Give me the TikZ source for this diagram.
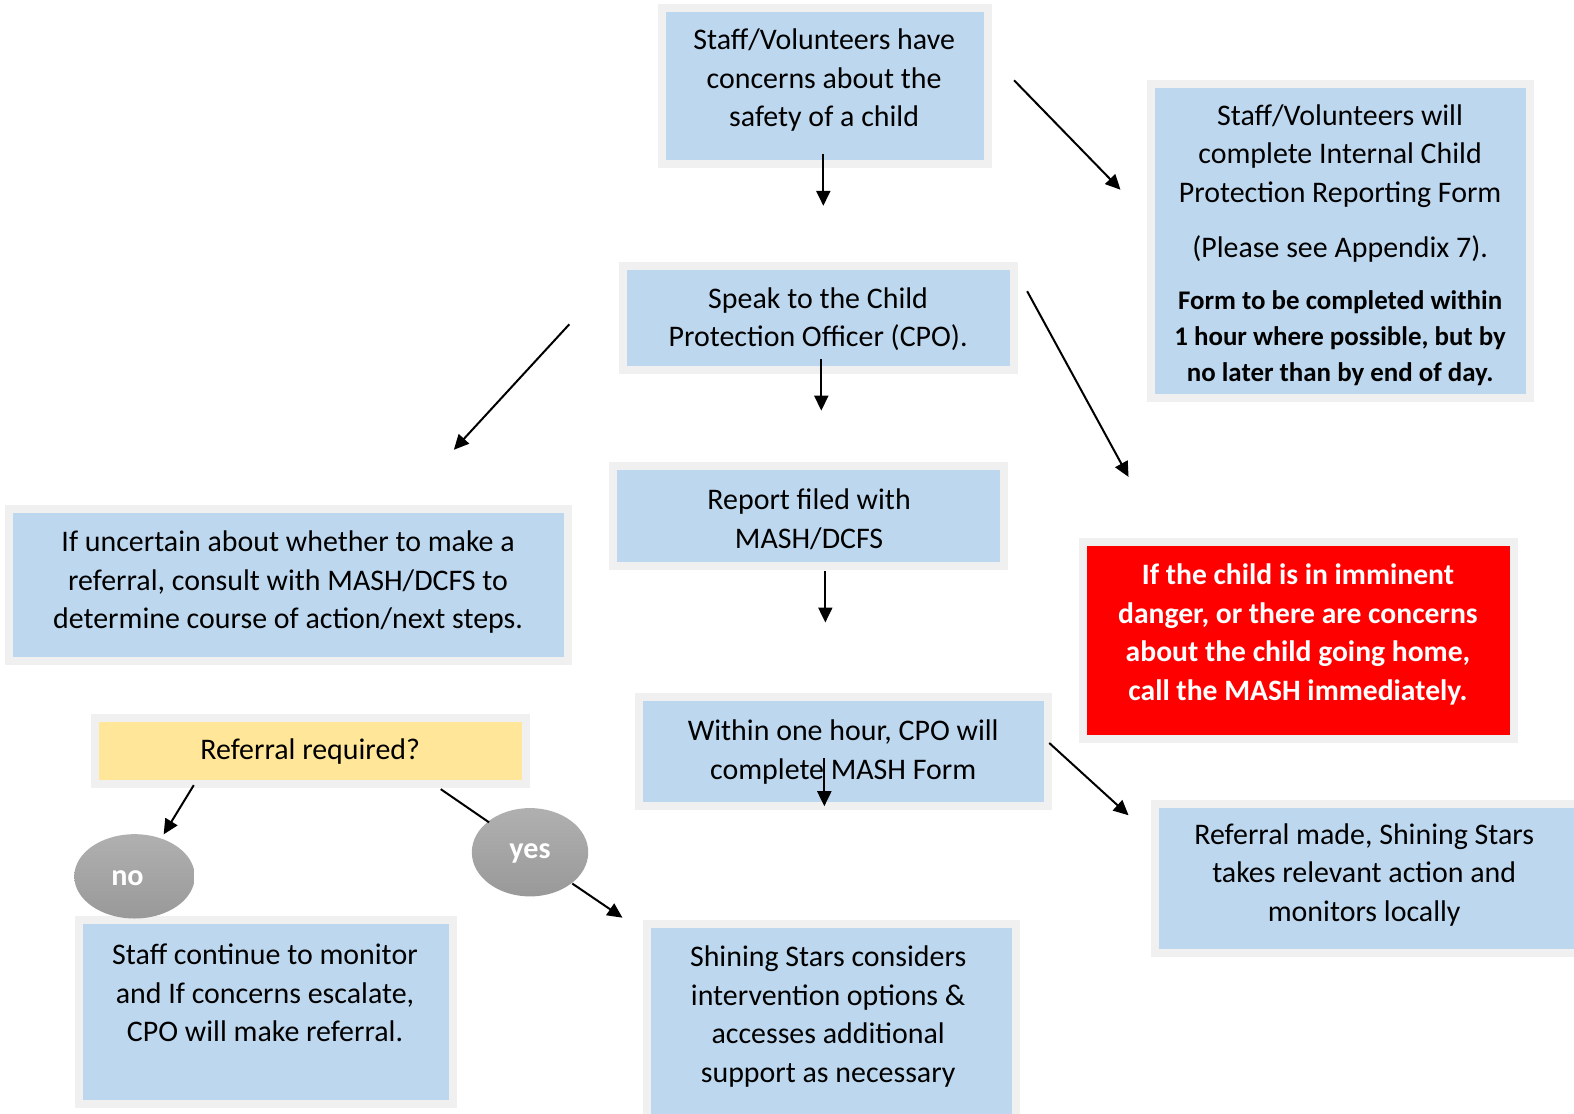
\documentclass[tikz,border=0pt]{standalone}
\usepackage{fontspec}
\setmainfont{Carlito}
\usetikzlibrary{arrows.meta,shapes.geometric}
\definecolor{boxblue}{HTML}{BDD7EE}
\definecolor{boxgray}{HTML}{F0F0F0}
\definecolor{boxyellow}{HTML}{FFE699}
\definecolor{boxred}{HTML}{FF0000}
\tikzset{
  box/.style={draw=boxgray, line width=8pt, fill=boxblue, inner sep=0pt, rectangle},
  txt/.style={align=center, inner sep=0pt, font=\fontsize{29.8}{38.5}\selectfont},
  btxt/.style={align=center, inner sep=0pt, font=\fontsize{26.8}{35.5}\selectfont\bfseries},
  rtxt/.style={align=center, inner sep=0pt, text=white, font=\fontsize{29.5}{38.5}\selectfont\bfseries},
  oval/.style={ellipse, inner sep=0pt, top color=gray!62, bottom color=gray!80, draw=none},
  ovaltxt/.style={text=white, inner sep=0pt, font=\fontsize{30}{32}\selectfont\bfseries},
  arr/.style={line width=2pt, -{Triangle[length=15pt,width=14pt]}},
  ln/.style={line width=2pt}
}
\begin{document}
\begin{tikzpicture}[x=1pt,y=-1pt,scale=1.0038,transform shape]
\useasboundingbox (0,0) rectangle (1568,1109.75);
\clip (0,0) rectangle (1568,1109.75);
% boxes
\node[box, minimum width=325pt, minimum height=155pt] (b1) at (821.5,85.5) {};
\node[box, minimum width=377pt, minimum height=312pt] (b2) at (1335.5,240) {};
\node[box, minimum width=389pt, minimum height=104pt] (b3) at (815.5,317) {};
\node[box, minimum width=389pt, minimum height=100pt] (b4) at (805.5,514) {};
\node[box, minimum width=557pt, minimum height=151pt] (b5) at (287.5,582.5) {};
\node[box, fill=boxred, minimum width=429pt, minimum height=196pt] (b6) at (1293.5,638) {};
\node[box, minimum width=407pt, minimum height=109pt] (b7) at (840.5,748.5) {};
\node[box, fill=boxyellow, minimum width=429pt, minimum height=66pt] (b8) at (309.5,748) {};
\node[box, minimum width=429pt, minimum height=148pt] (b9) at (1365.5,875) {};
\node[box, minimum width=372pt, minimum height=184pt] (b10) at (265,1008) {};
\node[box, minimum width=367pt, minimum height=194pt] (b11) at (828.5,1017) {};
% texts
\node[txt] (t1) at (821,80) {Staff/Volunteers have\\concerns about the\\safety of a child};
\node[txt] (t2a) at (1335,155.5) {Staff/Volunteers will\\complete Internal Child\\Protection Reporting Form};
\node[txt] (t2b) at (1335,248.5) {(Please see Appendix 7).};
\node[btxt] (t2c) at (1335,337) {Form to be completed within\\1 hour where possible, but by\\no later than by end of day.};
\node[txt] (t3) at (815,318) {Speak to the Child\\Protection Officer (CPO).};
\node[txt] (t4) at (806,517) {Report filed with\\MASH/DCFS};
\node[txt] (t5) at (287,580) {If uncertain about whether to make a\\referral, consult with MASH/DCFS to\\determine course of action/next steps.};
\node[rtxt] (t6) at (1293,632) {If the child is in imminent\\danger, or there are concerns\\about the child going home,\\call the MASH immediately.};
\node[txt] (t7) at (840,749) {Within one hour, CPO will\\complete MASH Form};
\node[txt] (t8) at (309,749) {Referral required?};
\node[txt] (t9) at (1359,871.5) {Referral made, Shining Stars\\takes relevant action and\\monitors locally};
\node[txt] (t10) at (264,989) {Staff continue to monitor\\and If concerns escalate,\\CPO will make referral.};
\node[txt] (t11) at (825,1012.5) {Shining Stars considers\\intervention options \&\\accesses additional\\support as necessary};
% ovals
\node[oval, minimum width=120pt, minimum height=84pt] (no) at (134,873) {};
\node[oval, minimum width=116pt, minimum height=88pt] (yes) at (528,849) {};
\node[ovaltxt] (notxt) at (127,875) {no};
\node[ovaltxt] (yestxt) at (528,850) {yes};
% arrow endpoints
\coordinate (a1s) at (820,153);  \coordinate (a1e) at (820,205);
\coordinate (a2s) at (1010,80);  \coordinate (a2e) at (1116,189);
\coordinate (a3s) at (818,358);  \coordinate (a3e) at (818,409);
\coordinate (a4s) at (567,323);  \coordinate (a4e) at (452,448);
\coordinate (a5s) at (1023,290); \coordinate (a5e) at (1124,475);
\coordinate (a6s) at (822,569);  \coordinate (a6e) at (822,620);
\coordinate (a7s) at (821,755);  \coordinate (a7e) at (821,803);
\coordinate (a8s) at (1045,740); \coordinate (a8e) at (1124,812);
\coordinate (a9s) at (193,782);  \coordinate (a9e) at (163,831);
\coordinate (a10s) at (439,786); \coordinate (a10e) at (487,819);
\coordinate (a11s) at (570,880); \coordinate (a11e) at (620,914);
\draw[arr] (a1s) -- (a1e);
\draw[arr] (a2s) -- (a2e);
\draw[arr] (a3s) -- (a3e);
\draw[arr] (a4s) -- (a4e);
\draw[arr] (a5s) -- (a5e);
\draw[arr] (a6s) -- (a6e);
\draw[arr] (a7s) -- (a7e);
\draw[arr] (a8s) -- (a8e);
\draw[arr] (a9s) -- (a9e);
\draw[ln] (a10s) -- (a10e);
\draw[arr] (a11s) -- (a11e);
\end{tikzpicture}
\end{document}
